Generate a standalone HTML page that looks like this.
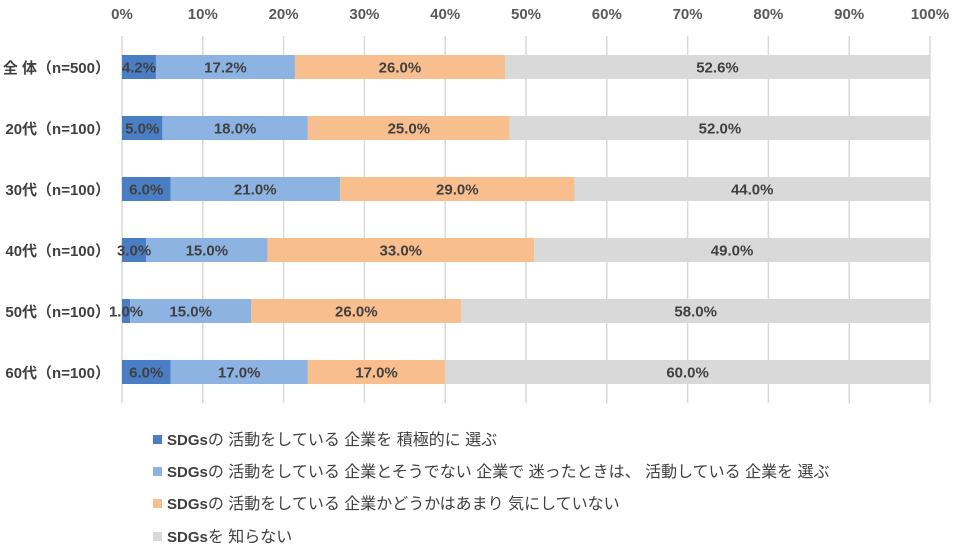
<!DOCTYPE html>
<html><head><meta charset="utf-8"><style>
html,body{margin:0;padding:0;background:#fff;}
svg{display:block;font-family:"Liberation Sans","Noto Sans CJK JP",sans-serif;}
</style></head><body>
<svg width="963" height="555" viewBox="0 0 963 555" xmlns="http://www.w3.org/2000/svg">
<g stroke="#d9d9d9" stroke-width="1.5">
<line x1="122" y1="36" x2="122" y2="403"/><line x1="202.8" y1="36" x2="202.8" y2="403"/><line x1="283.6" y1="36" x2="283.6" y2="403"/><line x1="364.4" y1="36" x2="364.4" y2="403"/><line x1="445.2" y1="36" x2="445.2" y2="403"/><line x1="526" y1="36" x2="526" y2="403"/><line x1="606.8" y1="36" x2="606.8" y2="403"/><line x1="687.6" y1="36" x2="687.6" y2="403"/><line x1="768.4" y1="36" x2="768.4" y2="403"/><line x1="849.2" y1="36" x2="849.2" y2="403"/><line x1="930" y1="36" x2="930" y2="403"/>
</g>
<g font-size="15" font-weight="bold" fill="#595959" text-anchor="middle">
<text x="122" y="19">0%</text><text x="202.8" y="19">10%</text><text x="283.6" y="19">20%</text><text x="364.4" y="19">30%</text><text x="445.2" y="19">40%</text><text x="526" y="19">50%</text><text x="606.8" y="19">60%</text><text x="687.6" y="19">70%</text><text x="768.4" y="19">80%</text><text x="849.2" y="19">90%</text><text x="930" y="19">100%</text>
</g>
<g>
<rect x="122" y="55" width="33.94" height="24" fill="#4a7ec4"/><rect x="155.94" y="55" width="138.98" height="24" fill="#8db3e2"/><rect x="294.92" y="55" width="210.08" height="24" fill="#f9be8e"/><rect x="505" y="55" width="425" height="24" fill="#d9d9d9"/>
<rect x="122" y="116" width="40.4" height="24" fill="#4a7ec4"/><rect x="162.4" y="116" width="145.44" height="24" fill="#8db3e2"/><rect x="307.84" y="116" width="202" height="24" fill="#f9be8e"/><rect x="509.84" y="116" width="420.16" height="24" fill="#d9d9d9"/>
<rect x="122" y="177" width="48.48" height="24" fill="#4a7ec4"/><rect x="170.48" y="177" width="169.68" height="24" fill="#8db3e2"/><rect x="340.16" y="177" width="234.32" height="24" fill="#f9be8e"/><rect x="574.48" y="177" width="355.52" height="24" fill="#d9d9d9"/>
<rect x="122" y="238" width="24.24" height="24" fill="#4a7ec4"/><rect x="146.24" y="238" width="121.2" height="24" fill="#8db3e2"/><rect x="267.44" y="238" width="266.64" height="24" fill="#f9be8e"/><rect x="534.08" y="238" width="395.92" height="24" fill="#d9d9d9"/>
<rect x="122" y="299" width="8.08" height="24" fill="#4a7ec4"/><rect x="130.08" y="299" width="121.2" height="24" fill="#8db3e2"/><rect x="251.28" y="299" width="210.08" height="24" fill="#f9be8e"/><rect x="461.36" y="299" width="468.64" height="24" fill="#d9d9d9"/>
<rect x="122" y="360" width="48.48" height="24" fill="#4a7ec4"/><rect x="170.48" y="360" width="137.36" height="24" fill="#8db3e2"/><rect x="307.84" y="360" width="137.36" height="24" fill="#f9be8e"/><rect x="445.2" y="360" width="484.8" height="24" fill="#d9d9d9"/>
</g>
<g font-size="15" font-weight="bold" fill="#404040" text-anchor="middle">
<text x="138.97" y="72.5">4.2%</text><text x="225.43" y="72.5">17.2%</text><text x="399.96" y="72.5">26.0%</text><text x="717.5" y="72.5">52.6%</text>
<text x="142.2" y="133.5">5.0%</text><text x="235.12" y="133.5">18.0%</text><text x="408.84" y="133.5">25.0%</text><text x="719.92" y="133.5">52.0%</text>
<text x="146.24" y="194.5">6.0%</text><text x="255.32" y="194.5">21.0%</text><text x="457.32" y="194.5">29.0%</text><text x="752.24" y="194.5">44.0%</text>
<text x="134.12" y="255.5">3.0%</text><text x="206.84" y="255.5">15.0%</text><text x="400.76" y="255.5">33.0%</text><text x="732.04" y="255.5">49.0%</text>
<text x="126.04" y="316.5">1.0%</text><text x="190.68" y="316.5">15.0%</text><text x="356.32" y="316.5">26.0%</text><text x="695.68" y="316.5">58.0%</text>
<text x="146.24" y="377.5">6.0%</text><text x="239.16" y="377.5">17.0%</text><text x="376.52" y="377.5">17.0%</text><text x="687.6" y="377.5">60.0%</text>
</g>
<g font-size="15" font-weight="bold" fill="#404040" text-anchor="end">
<text x="110" y="73">全 体（n=500）</text>
<text x="110" y="134">20代（n=100）</text>
<text x="110" y="195">30代（n=100）</text>
<text x="110" y="256">40代（n=100）</text>
<text x="110" y="317">50代（n=100）</text>
<text x="110" y="378">60代（n=100）</text>
</g>
<g font-size="16" fill="#404040">
<rect x="153" y="435" width="9" height="9" fill="#4a7ec4"/><text x="167" y="445"><tspan font-weight="bold" font-size="15">SDGs</tspan>の 活動をしている 企業を 積極的に 選ぶ</text>
<rect x="153" y="467" width="9" height="9" fill="#8db3e2"/><text x="167" y="477"><tspan font-weight="bold" font-size="15">SDGs</tspan>の 活動をしている 企業とそうでない 企業で 迷ったときは、 活動している 企業を 選ぶ</text>
<rect x="153" y="499" width="9" height="9" fill="#f9be8e"/><text x="167" y="509"><tspan font-weight="bold" font-size="15">SDGs</tspan>の 活動をしている 企業かどうかはあまり 気にしていない</text>
<rect x="153" y="532" width="9" height="9" fill="#d9d9d9"/><text x="167" y="542"><tspan font-weight="bold" font-size="15">SDGs</tspan>を 知らない</text>
</g>
</svg>
</body></html>
